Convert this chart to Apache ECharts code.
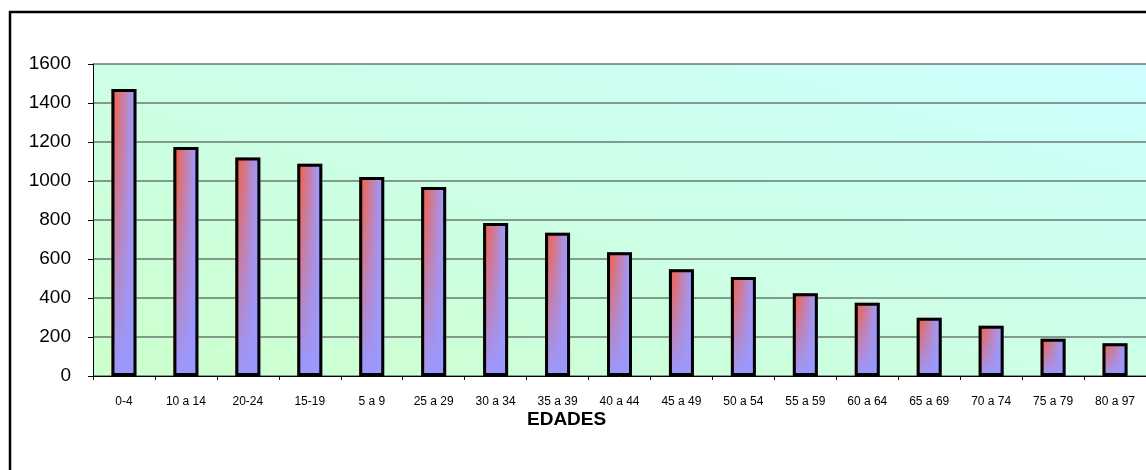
<!DOCTYPE html>
<html>
<head>
<meta charset="utf-8">
<script src="https://cdn.jsdelivr.net/npm/echarts@6/dist/echarts.min.js"></script>
<style>
html,body{margin:0;padding:0;background:#fff;}
#c{width:1146px;height:470px;}
</style>
</head>
<body>
<div id="c"></div>
<script>
const categories = ['0-4','10 a 14','20-24','15-19','5 a 9','25 a 29','30 a 34','35 a 39','40 a 44','45 a 49','50 a 54','55 a 59','60 a 64','65 a 69','70 a 74','75 a 79','80 a 97'];
const values = [1472, 1174, 1121, 1089, 1020, 969, 785, 735, 634, 547, 508, 424, 376, 299, 258, 191, 168];
const yTicks = { min: 0, max: 1600, interval: 200 };
const xTitle = 'EDADES';

const chart = echarts.init(document.getElementById('c'), null, {renderer:'canvas'});
const G = echarts.graphic;
const FONT = '"Liberation Sans", Arial, sans-serif';
chart.setOption({
  animation: false,
  backgroundColor: '#ffffff',
  graphic: [
    { type: 'rect', shape: { x: 10, y: 12, width: 1160, height: 480 }, style: { fill: 'none', stroke: '#000', lineWidth: 2.5 }, z: 100 },
    { type: 'text', left: 527, top: 410, style: { text: xTitle, font: 'bold 19px ' + FONT, fill: '#000' }, z: 100 }
  ],
  grid: {
    left: 93, top: 64, width: 1061, height: 312,
    show: true, borderWidth: 0,
    backgroundColor: new G.LinearGradient(0, 1, 0.159, -0.84, [
      { offset: 0, color: '#ccffcc' },
      { offset: 1, color: '#ccffff' }
    ])
  },
  xAxis: {
    type: 'category', data: categories,
    axisLine: { lineStyle: { color: '#000', width: 1 } },
    axisTick: { show: true, length: 4, lineStyle: { color: '#000' } },
    axisLabel: { color: '#000', fontSize: 12, fontFamily: FONT, margin: 20, interval: 0 },
    splitLine: { show: false }
  },
  yAxis: {
    type: 'value', min: yTicks.min, max: yTicks.max, interval: yTicks.interval,
    axisLine: { show: true, lineStyle: { color: '#000', width: 1 } },
    axisTick: { show: true, length: 5, lineStyle: { color: '#000' } },
    axisLabel: { color: '#000', fontSize: 19, fontFamily: FONT, margin: 22, formatter: function (v) { return String(v); } },
    splitLine: { show: true, lineStyle: { color: '#6a7a72', width: 1.5 } }
  },
  series: [{
    type: 'bar', data: values, barWidth: 25, z: 2,
    itemStyle: {
      borderWidth: 0,
      color: new G.LinearGradient(0, 0, 1, 0, [
        { offset: 0, color: '#ff5a30' },
        { offset: 0.85, color: '#a198f8' },
        { offset: 1, color: '#9999ff' }
      ])
    }
  }, {
    type: 'bar', data: values, barWidth: 25, barGap: '-100%', z: 3,
    itemStyle: {
      borderColor: '#000', borderWidth: 3,
      color: new G.LinearGradient(0, 0, 0, 1, [
        { offset: 0, color: 'rgba(153,153,255,0)' },
        { offset: 0.15, color: 'rgba(153,153,255,0.1)' },
        { offset: 1, color: 'rgba(153,153,255,1)' }
      ])
    }
  }]
});
</script>
</body>
</html>
